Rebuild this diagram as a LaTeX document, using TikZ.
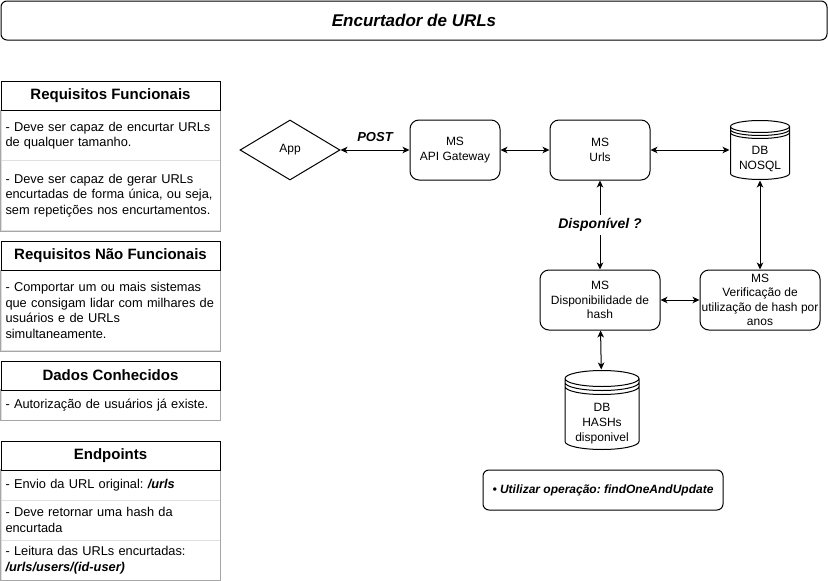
\documentclass[tikz,border=0pt]{standalone}
\usepackage{fontspec}
\setmainfont{Liberation Sans}
\usetikzlibrary{shapes.geometric,arrows.meta,calc}
\frenchspacing

\begin{document}
\begin{tikzpicture}[x=1pt, y=1pt, line width=1pt, >={Stealth[length=7pt,width=6.5pt,inset=2pt]}]
        \tikzset{
        url title/.style={draw,rounded corners=6,minimum width=826,minimum height=39,inner sep=0,font=\fontsize{17}{20}\selectfont\bfseries\itshape},
        url head/.style={draw,fill=white,minimum width=219,minimum height=29,inner sep=0,font=\fontsize{15}{18}\selectfont\bfseries},
        url item/.style={draw=gray!25,minimum width=219,minimum height=#1,inner xsep=4.5,inner ysep=0,text width=210,align=left,font=\fontsize{12.8}{15.5}\selectfont},
        url frame/.style={draw=gray!70},
        url ms/.style={draw,rounded corners=9,minimum width=#1,minimum height=60,inner sep=1,align=center,font=\fontsize{12}{14.5}\selectfont},
        url app/.style={diamond,draw,minimum width=100,minimum height=60,inner sep=0,font=\fontsize{12}{14.5}\selectfont},
        url db/.style={minimum width=#1,inner sep=0,path picture={
          \draw[line width=1pt] let \p1=(path picture bounding box.north west), \p2=(path picture bounding box.south east),
            \n1={(\x2-\x1)/2-0.5}, \n2={(\y1-\y2)/10} in
            (\x1+0.5pt,\y1-0.5pt-\n2) -- (\x1+0.5pt,\y2+0.5pt+\n2)
            arc[start angle=180,end angle=360,x radius=\n1,y radius=\n2]
            -- (\x2-0.5pt,\y1-0.5pt-\n2)
            arc[start angle=0,end angle=180,x radius=\n1,y radius=\n2]
            arc[start angle=180,end angle=360,x radius=\n1,y radius=\n2]
            (\x1+0.5pt,\y1-0.5pt-1.5*\n2) arc[start angle=180,end angle=360,x radius=\n1,y radius=\n2]
            (\x1+0.5pt,\y1-0.5pt-2*\n2) arc[start angle=180,end angle=360,x radius=\n1,y radius=\n2];
          }},
        url db text/.style={align=center,font=\fontsize{12}{15}\selectfont},
        url tag/.style={font=\fontsize{13}{16}\selectfont\bfseries\itshape},
        url note/.style={draw,rounded corners=6,minimum width=240,minimum height=40,inner sep=0,font=\fontsize{12}{14.5}\selectfont\bfseries\itshape},
        url edge/.style={<->}
        }
        \useasboundingbox (0,0) rectangle (828,-581);

        \node[url title] (title) at (414,-20.5) {Encurtador de URLs};

        \node[url item=50] (rf1) at (110.5,-135.5) {- Deve ser capaz de encurtar URLs\\de qualquer tamanho.};
        \node[url item=70] (rf2) at (110.5,-195.5) {- Deve ser capaz de gerar URLs\\encurtadas de forma única, ou seja,\\sem repetições nos encurtamentos.};
        \draw[url frame] (rf1.north west) rectangle (rf2.south east);
        \node[url head] (rfhead) at (110.5,-95.5) {Requisitos Funcionais};

        \node[url item=80] (rnf1) at (110.5,-310.5) {- Comportar um ou mais sistemas\\que consigam lidar com milhares de\\usuários e de URLs\\simultaneamente.};
        \draw[url frame] (rnf1.north west) rectangle (rnf1.south east);
        \node[url head] (rnfhead) at (110.5,-255.5) {Requisitos Não Funcionais};

        \node[url item=30] (dc1) at (110.5,-405) {- Autorização de usuários já existe.};
        \draw[url frame] (dc1.north west) rectangle (dc1.south east);
        \node[url head] (dchead) at (110.5,-375.5) {Dados Conhecidos};

        \node[url item=30] (ep1) at (110.5,-485) {- Envio da URL original: \textbf{\textit{/urls}}};
        \node[url item=40] (ep2) at (110.5,-520) {- Deve retornar uma hash da\\encurtada};
        \node[url item=40] (ep3) at (110.5,-560) {- Leitura das URLs encurtadas:\\\textbf{\textit{/urls/users/(id-user)}}};
        \draw[url frame] (ep1.north west) rectangle (ep3.south east);
        \node[url head] (ephead) at (110.5,-455.5) {Endpoints};

        \node[url app] (app) at (290,-150) {App};
        \node[url ms=90] (gw) at (455,-150) {MS\\API Gateway};
        \node[url ms=100] (urls) at (600,-150) {MS\\Urls};
        \node[url db=60, minimum height=60, label={[url db text,yshift=-9]center:DB\\NOSQL}] (nosql) at (760,-150) {};
        \node[url ms=120] (disp) at (600,-300) {MS\\Disponibilidade de\\hash};
        \node[url ms=120] (verif) at (760,-300) {MS\\Verificação de\\utilização de hash por\\anos};
        \node[url db=75, minimum height=80, label={[url db text,yshift=-14]center:DB\\HASHs\\disponivel}] (hashdb) at (602,-410) {};
        \node[url note] (note) at (603,-490) {• Utilizar operação: findOneAndUpdate};

        \path[url edge]
        (app) edge node[url tag, above=5pt] {POST} (gw)
        (gw) edge (urls)
        (urls) edge (nosql)
        (urls) edge node[url tag, fill=white, font=\fontsize{14}{16}\selectfont\bfseries\itshape] {Disponível ?} (disp)
        (nosql) edge (verif)
        (disp) edge (verif)
        (disp) edge (hashdb)
        ;
    \end{tikzpicture}
\end{document}
